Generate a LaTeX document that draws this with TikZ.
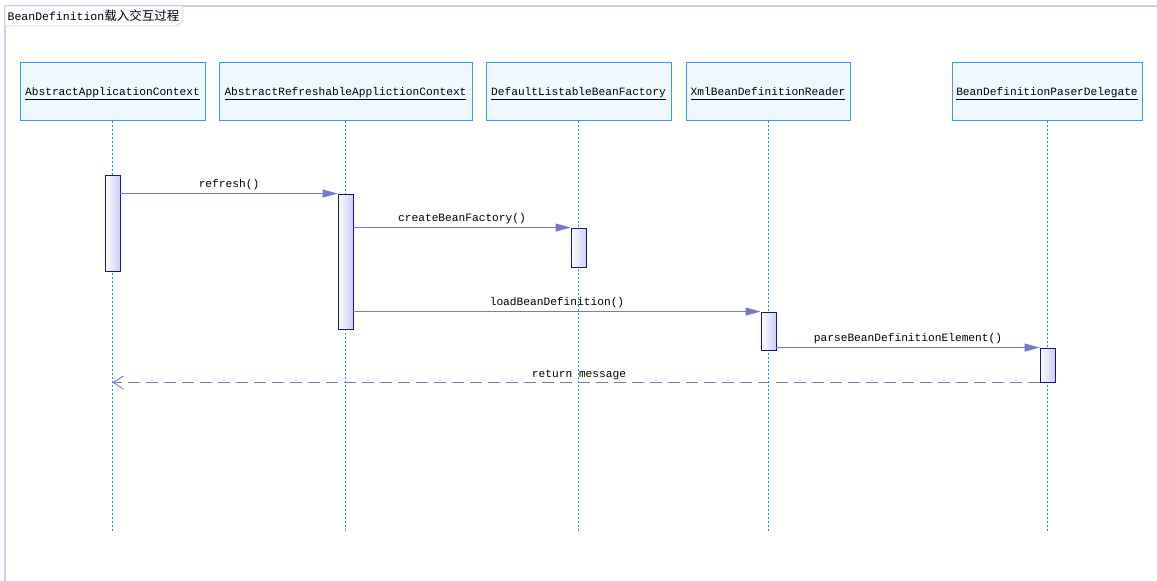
\documentclass[tikz,border=0pt]{standalone}
\usepackage{fontspec}
\usetikzlibrary{arrows.meta}
\setmonofont{Liberation Mono}
\newfontfamily\cjk{Noto Sans CJK SC}
\newcommand\myul[1]{\underline{#1\vphantom{p}}}
\definecolor{hdrborder}{RGB}{51,153,255}
\definecolor{hdrfill}{RGB}{240,248,255}
\definecolor{lifec}{RGB}{50,135,240}
\definecolor{actborder}{RGB}{20,20,130}
\definecolor{actfill}{RGB}{205,205,245}
\definecolor{msgc}{RGB}{120,120,200}
\definecolor{framec}{RGB}{210,205,238}
\tikzset{
  hdr/.style={draw=hdrborder, fill=hdrfill, line width=1pt, minimum height=58pt, inner sep=0pt, text depth=0pt, font=\ttfamily\fontsize{11.2}{13}\selectfont},
  life/.style={lifec, line width=0.9pt, dash pattern=on 2pt off 2pt},
  act/.style={draw=actborder, line width=0.9pt, shading=axis, left color=white, right color=actfill, shading angle=90, minimum width=15pt, inner sep=0pt},
  msg/.style={msgc, line width=0.9pt, -{Triangle[length=15pt,width=8pt]}},
  ret/.style={msgc, line width=0.9pt, dash pattern=on 12pt off 6pt, -{Straight Barb[length=10pt,width=13pt,line width=0.9pt]}},
  lbl/.style={font=\ttfamily\fontsize{11.2}{13}\selectfont, black, inner sep=1pt, anchor=south},
}
\begin{document}
\begin{tikzpicture}[x=1pt,y=-1pt]
\useasboundingbox (0,0) rectangle (1157,581);
% frame
\draw[framec, line width=1.2pt] (5,581) -- (5,6) -- (1157,6);
\draw[framec, line width=0.9pt, fill=white] (5,6) -- (183,6) -- (183,20) -- (177,26) -- (5,26) -- cycle;
\node[anchor=west, inner sep=0pt, font=\ttfamily\fontsize{11.5}{13}\selectfont] (title) at (7.5,16) {BeanDefinition{\cjk\fontsize{12.5}{13}\selectfont 载入交互过程}};
% headers
\node[hdr, minimum width=185pt] (h1) at (112.5,91) {\raisebox{-1pt}{\myul{AbstractApplicationContext}}};
\node[hdr, minimum width=253pt] (h2) at (345.5,91) {\raisebox{-1pt}{\myul{AbstractRefreshableApplictionContext}}};
\node[hdr, minimum width=185pt] (h3) at (578.5,91) {\raisebox{-1pt}{\myul{DefaultListableBeanFactory}}};
\node[hdr, minimum width=164pt] (h4) at (768,91) {\raisebox{-1pt}{\myul{XmlBeanDefinitionReader}}};
\node[hdr, minimum width=190pt] (h5) at (1047,91) {\raisebox{-1pt}{\myul{BeanDefinitionPaserDelegate}}};
% lifelines
\foreach \h in {h1,h2,h3,h4,h5} \draw[life] (\h.south) -- ++(0,412);
% activations
\node[act, minimum height=96pt] (a1) at (112.5,223) {};
\node[act, minimum height=135pt] (a2) at (345.5,261.5) {};
\node[act, minimum height=39pt] (a3) at (578.5,247.5) {};
\node[act, minimum height=38pt] (a4) at (768.5,331) {};
\node[act, minimum height=34pt] (a5) at (1047.5,365) {};
% messages
\draw[msg] (a2.north west -| a1.east) -- node[lbl, yshift=2pt] {refresh()} (a2.north west);
\draw[msg] (a3.north west -| a2.east) -- node[lbl, yshift=2pt] {createBeanFactory()} (a3.north west);
\draw[msg] (a4.north west -| a2.east) -- node[lbl, yshift=2pt] {loadBeanDefinition()} (a4.north west);
\draw[msg] (a5.north west -| a4.east) -- node[lbl, yshift=2pt] {parseBeanDefinitionElement()} (a5.north west);
\draw[ret] (a5.south west) -- node[lbl, yshift=1pt, xshift=3pt] {return message} (a5.south west -| h1.south);
\end{tikzpicture}
\end{document}
